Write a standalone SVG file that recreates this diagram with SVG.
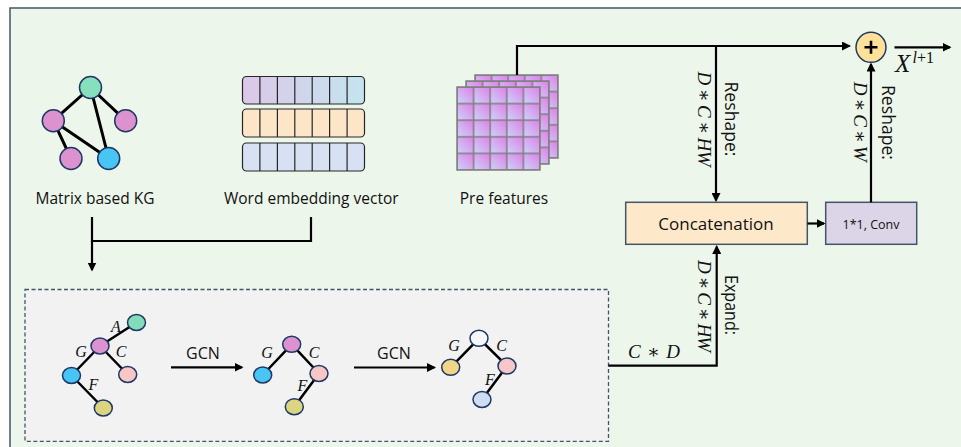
<svg xmlns="http://www.w3.org/2000/svg" width="961" height="447" viewBox="0 0 961 447">
<style>
.t{font-family:"Open Sans","Liberation Sans",sans-serif;fill:#111}
.m{font-family:"Liberation Serif","DejaVu Serif",serif;font-style:italic;fill:#111}
.n{stroke:#1f3864;stroke-width:1.5}
.e{stroke:#000;stroke-width:3;stroke-linecap:round}
.e2{stroke:#000;stroke-width:2.5;stroke-linecap:round}
.c{fill:none;stroke:#000;stroke-width:2.2}
.a{marker-end:url(#arr)}
.cell{stroke:#262626;stroke-width:1.2}
.box{stroke:#44546a;stroke-width:1.5}
</style>
<defs>
<marker id="arr" markerUnits="userSpaceOnUse" markerWidth="9" markerHeight="9" refX="7.5" refY="4.5" orient="auto">
<path d="M0,0 L9,4.5 L0,9 z" fill="#000"/>
</marker>
<linearGradient id="row1" x1="0" y1="0" x2="1" y2="0">
<stop offset="0" stop-color="#dcc7e8"/><stop offset="1" stop-color="#c3e5ef"/>
</linearGradient>
<linearGradient id="cg" x1="0" y1="1" x2="1" y2="0">
<stop offset="0" stop-color="#c9d6fa"/><stop offset="1" stop-color="#e07ee7"/>
</linearGradient>
<pattern id="pat" patternUnits="userSpaceOnUse" x="0" y="0" width="16.6" height="16.6">
<rect x="0" y="0" width="16.6" height="16.6" fill="url(#cg)" stroke="#7f7f7f" stroke-width="1.5"/>
</pattern>
<g id="layer"><rect x="0" y="0" width="83" height="83" fill="url(#pat)" stroke="#7f7f7f" stroke-width="1.5"/></g>
</defs>

<rect id="frame" x="10" y="8" width="1000" height="500" fill="#edf6eb" stroke="#44546a" stroke-width="1.5"/>

<g id="kg">
<line class="e" x1="90.5" y1="87.5" x2="53.3" y2="120.7"/>
<line class="e" x1="90.5" y1="87.5" x2="125.7" y2="120.7"/>
<line class="e" x1="90.5" y1="87.5" x2="108.7" y2="158.5"/>
<line class="e" x1="53.3" y1="120.7" x2="71" y2="158.5"/>
<line class="e" x1="53.3" y1="120.7" x2="108.7" y2="158.5"/>
<circle class="n" cx="90.5" cy="87.5" r="11" fill="#86dfbd"/>
<circle class="n" cx="53.3" cy="120.7" r="11" fill="#dc92cf"/>
<circle class="n" cx="125.7" cy="120.7" r="11" fill="#dc92cf"/>
<circle class="n" cx="71" cy="158.5" r="11" fill="#dc92cf"/>
<circle class="n" cx="108.7" cy="158.5" r="11" fill="#48c5f4"/>
<text class="t" x="95" y="203.5" font-size="15.5" text-anchor="middle">Matrix based KG</text>
</g>

<g id="word-embedding">
<rect class="cell" x="242.5" y="76.5" width="122" height="27.5" rx="4" fill="url(#row1)"/>
<rect class="cell" x="242.5" y="109" width="122" height="28" rx="4" fill="#fde6c8"/>
<rect class="cell" x="242.5" y="143" width="122" height="28" rx="4" fill="#d7e1f3"/>
<path class="cell" fill="none" d="M259.9,76.5V104 M277.4,76.5V104 M294.8,76.5V104 M312.2,76.5V104 M329.6,76.5V104 M347.1,76.5V104 M259.9,109V137 M277.4,109V137 M294.8,109V137 M312.2,109V137 M329.6,109V137 M347.1,109V137 M259.9,143V171 M277.4,143V171 M294.8,143V171 M312.2,143V171 M329.6,143V171 M347.1,143V171"/>
<text class="t" x="311.3" y="203.5" font-size="15.5" text-anchor="middle">Word embedding vector</text>
</g>

<g id="pre-features">
<use href="#layer" transform="translate(475,75)"/>
<use href="#layer" transform="translate(466,81)"/>
<use href="#layer" transform="translate(457,87)"/>
<text class="t" x="504" y="203.5" font-size="15.5" text-anchor="middle">Pre features</text>
</g>

<g id="concatenation">
<rect class="box" x="625.7" y="202.3" width="181.6" height="42" fill="#fde9c9"/>
<text class="t" x="716" y="230" font-size="17" text-anchor="middle">Concatenation</text>
</g>

<g id="conv">
<rect class="box" x="825.7" y="202.3" width="91" height="42" fill="#dcd4e7"/>
<text class="t" x="871" y="229" font-size="12.5" text-anchor="middle">1*1, Conv</text>
</g>

<g id="sum">
<circle cx="871" cy="47.3" r="15" fill="#fde199" stroke="#1f3864" stroke-width="1.5"/>
<path d="M864.5,47.3H877.5 M871,40.8V53.8" stroke="#000" stroke-width="2.6"/>
</g>

<g id="output-label">
<text class="m" x="895" y="71.7" font-size="25">X</text>
<text class="m" x="912.5" y="63.3" font-size="16">l<tspan font-style="normal">+1</tspan></text>
</g>

<g id="gcn-block">
<rect x="25" y="289.5" width="583.5" height="151.8" fill="#f2f2f2" stroke="#44546a" stroke-width="1.3" stroke-dasharray="4,2.5"/>
<g id="graph1">
<line class="e2" x1="136.5" y1="322.5" x2="100" y2="346"/>
<line class="e2" x1="100" y1="346" x2="127.7" y2="374.5"/>
<line class="e2" x1="100" y1="346" x2="71.5" y2="375.5"/>
<line class="e2" x1="71.5" y1="375.5" x2="103.3" y2="408"/>
<ellipse class="n" cx="136.5" cy="322.5" rx="9" ry="8" fill="#80dcb9"/>
<ellipse class="n" cx="100" cy="346" rx="9" ry="8" fill="#dc92cf"/>
<ellipse class="n" cx="127.7" cy="374.5" rx="9" ry="8" fill="#f9c6c6"/>
<ellipse class="n" cx="71.5" cy="375.5" rx="9" ry="8" fill="#48c5f4"/>
<ellipse class="n" cx="103.3" cy="408" rx="9" ry="8" fill="#dcd47e"/>
<text class="m" x="116" y="331.5" font-size="16" text-anchor="middle">A</text>
<text class="m" x="81" y="357" font-size="16" text-anchor="middle">G</text>
<text class="m" x="121" y="357" font-size="16" text-anchor="middle">C</text>
<text class="m" x="93.5" y="390" font-size="16" text-anchor="middle">F</text>
</g>
<text class="t" x="203" y="359" font-size="16" text-anchor="middle">GCN</text>
<g id="graph2">
<line class="e2" x1="291.7" y1="344.3" x2="262.7" y2="375"/>
<line class="e2" x1="291.7" y1="344.3" x2="319" y2="373.5"/>
<line class="e2" x1="319" y1="373.5" x2="294.3" y2="406.7"/>
<ellipse class="n" cx="291.7" cy="344.3" rx="9" ry="8" fill="#dc92cf"/>
<ellipse class="n" cx="262.7" cy="375" rx="9" ry="8" fill="#48c5f4"/>
<ellipse class="n" cx="319" cy="373.5" rx="9" ry="8" fill="#f9c6c6"/>
<ellipse class="n" cx="294.3" cy="406.7" rx="9" ry="8" fill="#dcd47e"/>
<text class="m" x="267" y="358" font-size="16" text-anchor="middle">G</text>
<text class="m" x="314" y="358" font-size="16" text-anchor="middle">C</text>
<text class="m" x="302.5" y="391" font-size="16" text-anchor="middle">F</text>
</g>
<text class="t" x="394" y="359" font-size="16" text-anchor="middle">GCN</text>
<g id="graph3">
<line class="e2" x1="479" y1="338.3" x2="450.7" y2="367.3"/>
<line class="e2" x1="479" y1="338.3" x2="507" y2="366"/>
<line class="e2" x1="507" y1="366" x2="482" y2="399.5"/>
<ellipse class="n" cx="479" cy="338.3" rx="9" ry="8" fill="#f5f7fc"/>
<ellipse class="n" cx="450.7" cy="367.3" rx="9" ry="8" fill="#f1d689"/>
<ellipse class="n" cx="507" cy="366" rx="9" ry="8" fill="#f8c5c8"/>
<ellipse class="n" cx="482" cy="399.5" rx="9" ry="8" fill="#cfddf3"/>
<text class="m" x="454" y="350.5" font-size="16" text-anchor="middle">G</text>
<text class="m" x="501.5" y="350.5" font-size="16" text-anchor="middle">C</text>
<text class="m" x="490" y="385" font-size="16" text-anchor="middle">F</text>
</g>
</g>

<g id="connectors">
<path class="c" d="M92,217V241H311V217"/>
<path class="c a" d="M92,241V270"/>
<path class="c a" d="M171,367.3H242"/>
<path class="c a" d="M354,367.5H434.5"/>
<path class="c a" d="M608.5,365.7H716.7V246.5"/>
<path class="c a" d="M517,75V46H849.5"/>
<path class="c a" d="M716,46V200.5"/>
<path class="c a" d="M807.5,223.5H824"/>
<path class="c a" d="M871,202.3V64"/>
<path class="c a" d="M894.5,47.3H950"/>
<text class="m" x="654" y="358.3" font-size="19" text-anchor="middle" textLength="52" lengthAdjust="spacing">C ∗ D</text>
<text class="m" transform="translate(697.5,119) rotate(90)" font-size="19" text-anchor="middle" textLength="95" lengthAdjust="spacing">D ∗ C ∗ HW</text>
<text class="t" transform="translate(725,119) rotate(90)" font-size="18" text-anchor="middle" textLength="75" lengthAdjust="spacingAndGlyphs">Reshape:</text>
<text class="m" transform="translate(854,121.7) rotate(90)" font-size="19" text-anchor="middle" textLength="80" lengthAdjust="spacing">D ∗ C ∗ W</text>
<text class="t" transform="translate(881.5,122.5) rotate(90)" font-size="18" text-anchor="middle" textLength="75" lengthAdjust="spacingAndGlyphs">Reshape:</text>
<text class="m" transform="translate(697.5,306) rotate(90)" font-size="19" text-anchor="middle" textLength="92" lengthAdjust="spacing">D ∗ C ∗ HW</text>
<text class="t" transform="translate(725,305) rotate(90)" font-size="18" text-anchor="middle" textLength="60" lengthAdjust="spacingAndGlyphs">Expand:</text>
</g>
</svg>
